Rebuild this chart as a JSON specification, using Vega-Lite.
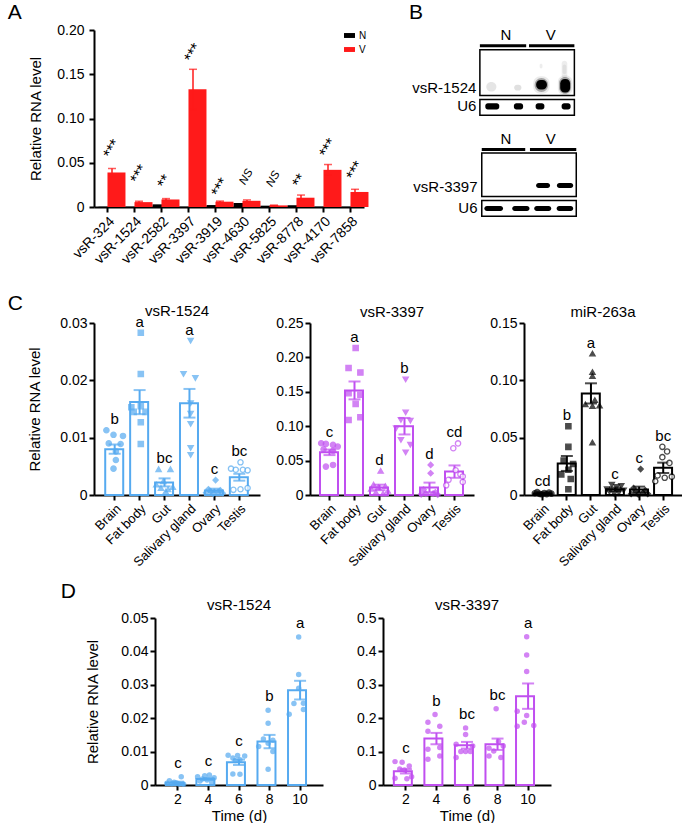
{
  "$schema": "https://vega.github.io/schema/vega-lite/v6.json",
  "background": "white",
  "padding": {"left": 7, "top": 2, "right": 0, "bottom": 0},
  "config": {
    "font": "Liberation Sans",
    "view": {"stroke": null},
    "axis": {"domainColor": "#000", "domainWidth": 2, "tickColor": "#000", "tickWidth": 2, "tickSize": 5, "labelColor": "#000", "labelFontSize": 14, "titleColor": "#000", "titleFontSize": 15, "titleFontWeight": "normal", "labelPadding": 2, "grid": false, "labelFont": "Liberation Sans", "titleFont": "Liberation Sans"},
    "title": {"fontWeight": "normal", "color": "#000", "font": "Liberation Sans"},
    "text": {"font": "Liberation Sans", "color": "#000"}
  },
  "datasets": {
    "a": [
      {"g": "vsR-324", "k": "N", "m": 0.0003, "s": 0},
      {"g": "vsR-324", "k": "V", "m": 0.039, "s": 0.0045},
      {"g": "vsR-1524", "k": "N", "m": 0.0003, "s": 0},
      {"g": "vsR-1524", "k": "V", "m": 0.0055, "s": 0.001},
      {"g": "vsR-2582", "k": "N", "m": 0.003, "s": 0.0004},
      {"g": "vsR-2582", "k": "V", "m": 0.0085, "s": 0.001},
      {"g": "vsR-3397", "k": "N", "m": 0.0003, "s": 0},
      {"g": "vsR-3397", "k": "V", "m": 0.133, "s": 0.0226},
      {"g": "vsR-3919", "k": "N", "m": 0.0022, "s": 0.0003},
      {"g": "vsR-3919", "k": "V", "m": 0.006, "s": 0.0007},
      {"g": "vsR-4630", "k": "N", "m": 0.0045, "s": 0.0005},
      {"g": "vsR-4630", "k": "V", "m": 0.007, "s": 0.001},
      {"g": "vsR-5825", "k": "N", "m": 0.0015, "s": 0.0002},
      {"g": "vsR-5825", "k": "V", "m": 0.0018, "s": 0.0003},
      {"g": "vsR-8778", "k": "N", "m": 0.002, "s": 0.0003},
      {"g": "vsR-8778", "k": "V", "m": 0.0105, "s": 0.003},
      {"g": "vsR-4170", "k": "N", "m": 0.0003, "s": 0},
      {"g": "vsR-4170", "k": "V", "m": 0.042, "s": 0.006},
      {"g": "vsR-7858", "k": "N", "m": 0.0003, "s": 0},
      {"g": "vsR-7858", "k": "V", "m": 0.017, "s": 0.003}
    ],
    "asig": [
      {"g": "vsR-324", "lab": "***", "m": 0.0565},
      {"g": "vsR-1524", "lab": "***", "m": 0.028},
      {"g": "vsR-2582", "lab": "**", "m": 0.0226},
      {"g": "vsR-3397", "lab": "***", "m": 0.165},
      {"g": "vsR-3919", "lab": "***", "m": 0.013},
      {"g": "vsR-4630", "lab": "NS", "m": 0.026},
      {"g": "vsR-5825", "lab": "NS", "m": 0.0237},
      {"g": "vsR-8778", "lab": "**", "m": 0.0237},
      {"g": "vsR-4170", "lab": "***", "m": 0.0576},
      {"g": "vsR-7858", "lab": "***", "m": 0.032}
    ],
    "bbox": [
      {"x1": 0, "x2": 4, "y1": 10.3, "y2": 34.0},
      {"x1": 0, "x2": 4, "y1": 36.1, "y2": 44.3},
      {"x1": 0.08, "x2": 4.08, "y1": 63.9, "y2": 86.6},
      {"x1": 0.08, "x2": 4.08, "y1": 88.7, "y2": 96.9}
    ],
    "bline": [
      {"x1": 0, "x2": 1.96, "y": 8.2},
      {"x1": 2.08, "x2": 4, "y": 8.2},
      {"x1": 0.08, "x2": 1.92, "y": 62.2},
      {"x1": 2.12, "x2": 4.08, "y": 62.2}
    ],
    "bnv": [
      {"x": 1.1, "y": 5.2, "t": "N"},
      {"x": 3.0, "y": 5.2, "t": "V"},
      {"x": 1.1, "y": 59.3, "t": "N"},
      {"x": 3.0, "y": 59.3, "t": "V"}
    ],
    "blab": [
      {"x": -0.15, "y": 29.9, "t": "vsR-1524"},
      {"x": -0.15, "y": 39.7, "t": "U6"},
      {"x": -0.1, "y": 81.4, "t": "vsR-3397"},
      {"x": -0.1, "y": 92.8, "t": "U6"}
    ],
    "bband": [
      {"x1": 0.23, "x2": 0.82, "y1": 38.1, "y2": 41.3, "o": 1},
      {"x1": 1.44, "x2": 1.83, "y1": 38.1, "y2": 41.3, "o": 1},
      {"x1": 2.36, "x2": 2.73, "y1": 38.1, "y2": 41.3, "o": 1},
      {"x1": 3.46, "x2": 3.84, "y1": 38.1, "y2": 41.3, "o": 1},
      {"x1": 2.38, "x2": 2.97, "y1": 79.6, "y2": 82.2, "o": 1},
      {"x1": 3.26, "x2": 3.95, "y1": 79.6, "y2": 82.2, "o": 1},
      {"x1": 0.19, "x2": 0.98, "y1": 91.5, "y2": 94.1, "o": 1},
      {"x1": 1.37, "x2": 2.1, "y1": 91.5, "y2": 94.1, "o": 1},
      {"x1": 2.3, "x2": 3.02, "y1": 91.5, "y2": 94.1, "o": 1},
      {"x1": 3.25, "x2": 3.95, "y1": 91.5, "y2": 94.1, "o": 1}
    ],
    "bhalo": [
      {"x1": 2.26, "x2": 2.95, "y1": 24, "y2": 33.2, "o": 0.08},
      {"x1": 2.32, "x2": 2.89, "y1": 25, "y2": 32.2, "o": 0.3},
      {"x1": 3.3, "x2": 3.92, "y1": 23.5, "y2": 34, "o": 0.08},
      {"x1": 3.35, "x2": 3.86, "y1": 24.5, "y2": 33.2, "o": 0.3},
      {"x1": 3.46, "x2": 3.7, "y1": 16, "y2": 25, "o": 0.07},
      {"x1": 3.5, "x2": 3.66, "y1": 18, "y2": 23, "o": 0.06},
      {"x1": 0.27, "x2": 0.7, "y1": 27, "y2": 32, "o": 0.1},
      {"x1": 1.45, "x2": 1.76, "y1": 28.5, "y2": 31.5, "o": 0.12},
      {"x1": 2.53, "x2": 2.65, "y1": 17.5, "y2": 20, "o": 0.07}
    ],
    "bblob": [
      {"x1": 2.38, "x2": 2.84, "y1": 26, "y2": 31, "o": 1},
      {"x1": 3.4, "x2": 3.82, "y1": 25.5, "y2": 32.5, "o": 1}
    ],
    "c1s": [
      {"t": "Brain", "v": 0.008, "s": 0.0008, "L": "b"},
      {"t": "Fat body", "v": 0.0162, "s": 0.0021, "L": "a"},
      {"t": "Gut", "v": 0.0022, "s": 0.0007, "L": "bc"},
      {"t": "Salivary gland", "v": 0.016, "s": 0.0025, "L": "a"},
      {"t": "Ovary", "v": 0.0008, "s": 0.0003, "L": "c"},
      {"t": "Testis", "v": 0.0031, "s": 0.0006, "L": "bc"}
    ],
    "c1p": [
      {"t": "Brain", "v": 0.0113, "r": 1}, {"t": "Brain", "v": 0.0105, "r": 4}, {"t": "Brain", "v": 0.0103, "r": 8}, {"t": "Brain", "v": 0.009, "r": 2},
      {"t": "Brain", "v": 0.0089, "r": 7}, {"t": "Brain", "v": 0.0076, "r": 5}, {"t": "Brain", "v": 0.0061, "r": 5}, {"t": "Brain", "v": 0.0046, "r": 4},
      {"t": "Fat body", "v": 0.0283, "r": 5}, {"t": "Fat body", "v": 0.0211, "r": 5}, {"t": "Fat body", "v": 0.0155, "r": 5}, {"t": "Fat body", "v": 0.0153, "r": 1},
      {"t": "Fat body", "v": 0.0145, "r": 7}, {"t": "Fat body", "v": 0.0145, "r": 2}, {"t": "Fat body", "v": 0.0127, "r": 5}, {"t": "Fat body", "v": 0.0089, "r": 5},
      {"t": "Gut", "v": 0.0045, "r": 2}, {"t": "Gut", "v": 0.0045, "r": 7}, {"t": "Gut", "v": 0.0024, "r": 4}, {"t": "Gut", "v": 0.0018, "r": 1},
      {"t": "Gut", "v": 0.0014, "r": 8}, {"t": "Gut", "v": 0.0012, "r": 3}, {"t": "Gut", "v": 0.001, "r": 6}, {"t": "Gut", "v": 0.0006, "r": 5},
      {"t": "Salivary gland", "v": 0.0269, "r": 5}, {"t": "Salivary gland", "v": 0.0211, "r": 2}, {"t": "Salivary gland", "v": 0.0204, "r": 7}, {"t": "Salivary gland", "v": 0.016, "r": 5},
      {"t": "Salivary gland", "v": 0.0142, "r": 5}, {"t": "Salivary gland", "v": 0.0124, "r": 5}, {"t": "Salivary gland", "v": 0.0082, "r": 5}, {"t": "Salivary gland", "v": 0.007, "r": 5},
      {"t": "Ovary", "v": 0.0026, "r": 5}, {"t": "Ovary", "v": 0.001, "r": 2}, {"t": "Ovary", "v": 0.0008, "r": 7}, {"t": "Ovary", "v": 0.0006, "r": 3},
      {"t": "Ovary", "v": 0.0005, "r": 6}, {"t": "Ovary", "v": 0.0004, "r": 1}, {"t": "Ovary", "v": 0.0003, "r": 8}, {"t": "Ovary", "v": 0.0002, "r": 4},
      {"t": "Testis", "v": 0.0057, "r": 5}, {"t": "Testis", "v": 0.0046, "r": 1}, {"t": "Testis", "v": 0.0044, "r": 3}, {"t": "Testis", "v": 0.0044, "r": 6},
      {"t": "Testis", "v": 0.0043, "r": 8}, {"t": "Testis", "v": 0.0012, "r": 8}, {"t": "Testis", "v": 0.001, "r": 5}, {"t": "Testis", "v": 0.0009, "r": 2}
    ],
    "c2s": [
      {"t": "Brain", "v": 0.062, "s": 0.004, "L": "c"},
      {"t": "Fat body", "v": 0.152, "s": 0.013, "L": "a"},
      {"t": "Gut", "v": 0.011, "s": 0.004, "L": "d"},
      {"t": "Salivary gland", "v": 0.1, "s": 0.012, "L": "b"},
      {"t": "Ovary", "v": 0.011, "s": 0.007, "L": "d"},
      {"t": "Testis", "v": 0.034, "s": 0.009, "L": "cd"}
    ],
    "c2p": [
      {"t": "Brain", "v": 0.0752, "r": 1}, {"t": "Brain", "v": 0.0743, "r": 3}, {"t": "Brain", "v": 0.0728, "r": 6}, {"t": "Brain", "v": 0.0704, "r": 8},
      {"t": "Brain", "v": 0.0665, "r": 2}, {"t": "Brain", "v": 0.0641, "r": 6}, {"t": "Brain", "v": 0.0413, "r": 3}, {"t": "Brain", "v": 0.0437, "r": 6},
      {"t": "Fat body", "v": 0.2136, "r": 5}, {"t": "Fat body", "v": 0.1845, "r": 2}, {"t": "Fat body", "v": 0.178, "r": 7}, {"t": "Fat body", "v": 0.148, "r": 2},
      {"t": "Fat body", "v": 0.1456, "r": 7}, {"t": "Fat body", "v": 0.1325, "r": 5}, {"t": "Fat body", "v": 0.109, "r": 2}, {"t": "Fat body", "v": 0.113, "r": 7},
      {"t": "Gut", "v": 0.035, "r": 5}, {"t": "Gut", "v": 0.015, "r": 2}, {"t": "Gut", "v": 0.013, "r": 7}, {"t": "Gut", "v": 0.011, "r": 4},
      {"t": "Gut", "v": 0.009, "r": 1}, {"t": "Gut", "v": 0.006, "r": 8}, {"t": "Gut", "v": 0.004, "r": 3}, {"t": "Gut", "v": 0.002, "r": 6},
      {"t": "Salivary gland", "v": 0.168, "r": 5}, {"t": "Salivary gland", "v": 0.12, "r": 5}, {"t": "Salivary gland", "v": 0.109, "r": 3}, {"t": "Salivary gland", "v": 0.108, "r": 7},
      {"t": "Salivary gland", "v": 0.097, "r": 1}, {"t": "Salivary gland", "v": 0.08, "r": 3}, {"t": "Salivary gland", "v": 0.073, "r": 7}, {"t": "Salivary gland", "v": 0.062, "r": 5},
      {"t": "Ovary", "v": 0.0437, "r": 5}, {"t": "Ovary", "v": 0.0316, "r": 5}, {"t": "Ovary", "v": 0.008, "r": 2}, {"t": "Ovary", "v": 0.004, "r": 7},
      {"t": "Ovary", "v": 0.002, "r": 3}, {"t": "Ovary", "v": 0.002, "r": 6}, {"t": "Ovary", "v": 0.001, "r": 1}, {"t": "Ovary", "v": 0.0005, "r": 8},
      {"t": "Testis", "v": 0.075, "r": 6}, {"t": "Testis", "v": 0.068, "r": 4}, {"t": "Testis", "v": 0.036, "r": 5}, {"t": "Testis", "v": 0.03, "r": 7},
      {"t": "Testis", "v": 0.027, "r": 8}, {"t": "Testis", "v": 0.022, "r": 2}, {"t": "Testis", "v": 0.019, "r": 8}, {"t": "Testis", "v": 0.014, "r": 1}
    ],
    "c3s": [
      {"t": "Brain", "v": 0.0012, "s": 0.0003, "L": "cd"},
      {"t": "Fat body", "v": 0.0275, "s": 0.0065, "L": "b"},
      {"t": "Gut", "v": 0.0886, "s": 0.0088, "L": "a"},
      {"t": "Salivary gland", "v": 0.005, "s": 0.0015, "L": "c"},
      {"t": "Ovary", "v": 0.0048, "s": 0.0025, "L": "c"},
      {"t": "Testis", "v": 0.0237, "s": 0.0045, "L": "bc"}
    ],
    "c3p": [
      {"t": "Brain", "v": 0.0025, "r": 2}, {"t": "Brain", "v": 0.0022, "r": 7}, {"t": "Brain", "v": 0.0018, "r": 5}, {"t": "Brain", "v": 0.0015, "r": 1},
      {"t": "Brain", "v": 0.0012, "r": 8}, {"t": "Brain", "v": 0.001, "r": 3}, {"t": "Brain", "v": 0.0008, "r": 6}, {"t": "Brain", "v": 0.0006, "r": 4},
      {"t": "Fat body", "v": 0.06, "r": 5}, {"t": "Fat body", "v": 0.042, "r": 5}, {"t": "Fat body", "v": 0.03, "r": 3}, {"t": "Fat body", "v": 0.027, "r": 7},
      {"t": "Fat body", "v": 0.022, "r": 5}, {"t": "Fat body", "v": 0.018, "r": 2}, {"t": "Fat body", "v": 0.014, "r": 6}, {"t": "Fat body", "v": 0.005, "r": 5},
      {"t": "Gut", "v": 0.1234, "r": 5}, {"t": "Gut", "v": 0.1072, "r": 5}, {"t": "Gut", "v": 0.1037, "r": 5}, {"t": "Gut", "v": 0.0828, "r": 6},
      {"t": "Gut", "v": 0.079, "r": 2}, {"t": "Gut", "v": 0.078, "r": 8}, {"t": "Gut", "v": 0.0776, "r": 5}, {"t": "Gut", "v": 0.0458, "r": 5},
      {"t": "Salivary gland", "v": 0.009, "r": 3}, {"t": "Salivary gland", "v": 0.008, "r": 7}, {"t": "Salivary gland", "v": 0.007, "r": 5}, {"t": "Salivary gland", "v": 0.005, "r": 1},
      {"t": "Salivary gland", "v": 0.004, "r": 8}, {"t": "Salivary gland", "v": 0.003, "r": 2}, {"t": "Salivary gland", "v": 0.002, "r": 6}, {"t": "Salivary gland", "v": 0.001, "r": 4},
      {"t": "Ovary", "v": 0.0226, "r": 5}, {"t": "Ovary", "v": 0.006, "r": 2}, {"t": "Ovary", "v": 0.004, "r": 7}, {"t": "Ovary", "v": 0.003, "r": 3},
      {"t": "Ovary", "v": 0.002, "r": 6}, {"t": "Ovary", "v": 0.001, "r": 1}, {"t": "Ovary", "v": 0.001, "r": 8}, {"t": "Ovary", "v": 0.0005, "r": 4},
      {"t": "Testis", "v": 0.042, "r": 4}, {"t": "Testis", "v": 0.038, "r": 6}, {"t": "Testis", "v": 0.033, "r": 4}, {"t": "Testis", "v": 0.028, "r": 7},
      {"t": "Testis", "v": 0.017, "r": 2}, {"t": "Testis", "v": 0.016, "r": 8}, {"t": "Testis", "v": 0.015, "r": 5}, {"t": "Testis", "v": 0.012, "r": 1}
    ],
    "d1s": [
      {"t": "2", "v": 0.0007, "s": 0.0003, "L": "c"},
      {"t": "4", "v": 0.0018, "s": 0.0003, "L": "c"},
      {"t": "6", "v": 0.0068, "s": 0.0008, "L": "c"},
      {"t": "8", "v": 0.013, "s": 0.002, "L": "b"},
      {"t": "10", "v": 0.0284, "s": 0.0028, "L": "a"}
    ],
    "d1p": [
      {"t": "2", "v": 0.0025, "r": 7}, {"t": "2", "v": 0.0013, "r": 2}, {"t": "2", "v": 0.0008, "r": 4}, {"t": "2", "v": 0.0006, "r": 5},
      {"t": "2", "v": 0.0005, "r": 1}, {"t": "2", "v": 0.0004, "r": 3}, {"t": "2", "v": 0.0003, "r": 6}, {"t": "2", "v": 0.0002, "r": 8},
      {"t": "4", "v": 0.003, "r": 6}, {"t": "4", "v": 0.0028, "r": 4}, {"t": "4", "v": 0.0025, "r": 1}, {"t": "4", "v": 0.0022, "r": 8},
      {"t": "4", "v": 0.0018, "r": 3}, {"t": "4", "v": 0.0015, "r": 5}, {"t": "4", "v": 0.0012, "r": 2}, {"t": "4", "v": 0.0008, "r": 7},
      {"t": "6", "v": 0.0089, "r": 1}, {"t": "6", "v": 0.0088, "r": 5}, {"t": "6", "v": 0.0087, "r": 8}, {"t": "6", "v": 0.0081, "r": 3},
      {"t": "6", "v": 0.0076, "r": 6}, {"t": "6", "v": 0.0073, "r": 4}, {"t": "6", "v": 0.0033, "r": 3}, {"t": "6", "v": 0.0032, "r": 6},
      {"t": "8", "v": 0.0224, "r": 5}, {"t": "8", "v": 0.0185, "r": 5}, {"t": "8", "v": 0.0138, "r": 3}, {"t": "8", "v": 0.0134, "r": 7},
      {"t": "8", "v": 0.0125, "r": 5}, {"t": "8", "v": 0.0115, "r": 1}, {"t": "8", "v": 0.01, "r": 7}, {"t": "8", "v": 0.0047, "r": 5},
      {"t": "10", "v": 0.0443, "r": 5}, {"t": "10", "v": 0.0331, "r": 5}, {"t": "10", "v": 0.029, "r": 5}, {"t": "10", "v": 0.0245, "r": 7},
      {"t": "10", "v": 0.0244, "r": 3}, {"t": "10", "v": 0.0226, "r": 7}, {"t": "10", "v": 0.0212, "r": 1}
    ],
    "d2s": [
      {"t": "2", "v": 0.041, "s": 0.0065, "L": "c"},
      {"t": "4", "v": 0.139, "s": 0.017, "L": "b"},
      {"t": "6", "v": 0.119, "s": 0.01, "L": "bc"},
      {"t": "8", "v": 0.122, "s": 0.017, "L": "bc"},
      {"t": "10", "v": 0.266, "s": 0.038, "L": "a"}
    ],
    "d2p": [
      {"t": "2", "v": 0.07, "r": 1}, {"t": "2", "v": 0.068, "r": 4}, {"t": "2", "v": 0.057, "r": 7}, {"t": "2", "v": 0.048, "r": 3},
      {"t": "2", "v": 0.045, "r": 5}, {"t": "2", "v": 0.025, "r": 8}, {"t": "2", "v": 0.02, "r": 1}, {"t": "2", "v": 0.019, "r": 6},
      {"t": "4", "v": 0.211, "r": 5}, {"t": "4", "v": 0.188, "r": 2}, {"t": "4", "v": 0.176, "r": 7}, {"t": "4", "v": 0.161, "r": 2},
      {"t": "4", "v": 0.107, "r": 2}, {"t": "4", "v": 0.112, "r": 7}, {"t": "4", "v": 0.077, "r": 2}, {"t": "4", "v": 0.087, "r": 7},
      {"t": "6", "v": 0.171, "r": 5}, {"t": "6", "v": 0.151, "r": 5}, {"t": "6", "v": 0.122, "r": 1}, {"t": "6", "v": 0.117, "r": 8},
      {"t": "6", "v": 0.1, "r": 3}, {"t": "6", "v": 0.1, "r": 5}, {"t": "6", "v": 0.1, "r": 7}, {"t": "6", "v": 0.082, "r": 1},
      {"t": "8", "v": 0.228, "r": 5}, {"t": "8", "v": 0.13, "r": 6}, {"t": "8", "v": 0.117, "r": 8}, {"t": "8", "v": 0.11, "r": 2},
      {"t": "8", "v": 0.102, "r": 4}, {"t": "8", "v": 0.087, "r": 2}, {"t": "8", "v": 0.082, "r": 7},
      {"t": "10", "v": 0.444, "r": 5}, {"t": "10", "v": 0.389, "r": 5}, {"t": "10", "v": 0.34, "r": 5}, {"t": "10", "v": 0.221, "r": 1},
      {"t": "10", "v": 0.208, "r": 5}, {"t": "10", "v": 0.178, "r": 8}, {"t": "10", "v": 0.176, "r": 1}, {"t": "10", "v": 0.188, "r": 4}
    ]
  },
  "spacing": 12,
  "vconcat": [
    {
      "title": {"text": "A", "anchor": "start", "fontSize": 21, "dx": -21, "dy": 21, "offset": 0},
      "spacing": 40,
      "hconcat": [
        {
          "width": 270,
          "height": 177,
          "data": {"name": "a"},
          "encoding": {
            "x": {"field": "g", "type": "nominal", "sort": ["vsR-324", "vsR-1524", "vsR-2582", "vsR-3397", "vsR-3919", "vsR-4630", "vsR-5825", "vsR-8778", "vsR-4170", "vsR-7858"], "scale": {"paddingInner": 0.33, "paddingOuter": 0.165}, "axis": {"title": null, "labelAngle": -45, "labelFontSize": 14}},
            "y": {"field": "m", "type": "quantitative", "scale": {"domain": [0, 0.2]}, "axis": {"title": "Relative RNA level", "values": [0, 0.05, 0.1, 0.15, 0.2], "labelExpr": "datum.value == 0 ? '0' : format(datum.value, '.2f')", "titlePadding": 13, "labelPadding": 5}}
          },
          "layer": [
            {
              "transform": [{"filter": "datum.k == 'N'"}],
              "mark": {"type": "bar", "width": {"band": 0.5}, "xOffset": -4.5},
              "encoding": {
                "color": {"datum": "N", "type": "nominal", "scale": {"domain": ["N", "V"], "range": ["#000000", "#FF1A1A"]}, "legend": {"title": null, "orient": "none", "legendX": 250, "legendY": 0, "symbolType": "M-1,-0.45H1V0.45H-1Z", "symbolSize": 120, "labelFontSize": 10, "rowPadding": 3, "symbolStrokeWidth": 0}}
              }
            },
            {
              "transform": [{"filter": "datum.k == 'V'"}],
              "mark": {"type": "bar", "width": {"band": 0.5}, "xOffset": 4.5},
              "encoding": {
                "color": {"datum": "V", "type": "nominal"}
              }
            },
            {
              "transform": [{"filter": "datum.k == 'V'"}],
              "mark": {"type": "errorbar", "ticks": {"size": 8, "xOffset": 4.5}, "rule": {"xOffset": 4.5}, "thickness": 1.5, "color": "#FF1A1A"},
              "encoding": {"yError": {"field": "s"}}
            },
            {
              "data": {"name": "asig"},
              "transform": [{"filter": "datum.lab != 'NS'"}],
              "mark": {"type": "text", "angle": -60, "align": "left", "baseline": "middle", "fontSize": 16},
              "encoding": {"text": {"field": "lab"}}
            },
            {
              "data": {"name": "asig"},
              "transform": [{"filter": "datum.lab == 'NS'"}],
              "mark": {"type": "text", "angle": -60, "align": "left", "baseline": "middle", "fontSize": 11.5, "fontStyle": "italic"},
              "encoding": {"text": {"field": "lab"}}
            }
          ]
        },
        {
          "width": 189,
          "height": 250,
          "title": {"text": "B", "anchor": "start", "frame": "group", "fontSize": 21, "offset": 5},
          "layer": [
            {
              "data": {"name": "bbox"},
              "mark": {"type": "rect", "fill": "white", "stroke": "#000", "strokeWidth": 1.5},
              "encoding": {
                "x": {"field": "x1", "type": "quantitative", "scale": {"domain": [-3, 4.5]}, "axis": null},
                "x2": {"field": "x2"},
                "y": {"field": "y1", "type": "quantitative", "scale": {"domain": [0, 128.9], "reverse": true}, "axis": null},
                "y2": {"field": "y2"}
              }
            },
            {
              "data": {"name": "bband"},
              "mark": {"type": "rect", "fill": "#000", "cornerRadius": 2.5},
              "encoding": {
                "x": {"field": "x1", "type": "quantitative"},
                "x2": {"field": "x2"},
                "y": {"field": "y1", "type": "quantitative"},
                "y2": {"field": "y2"},
                "opacity": {"field": "o", "type": "quantitative", "scale": null}
              }
            },
            {
              "data": {"name": "bhalo"},
              "mark": {"type": "rect", "fill": "#000", "cornerRadius": 7},
              "encoding": {
                "x": {"field": "x1", "type": "quantitative"},
                "x2": {"field": "x2"},
                "y": {"field": "y1", "type": "quantitative"},
                "y2": {"field": "y2"},
                "opacity": {"field": "o", "type": "quantitative", "scale": null}
              }
            },
            {
              "data": {"name": "bblob"},
              "mark": {"type": "rect", "fill": "#000", "cornerRadius": 4.5},
              "encoding": {
                "x": {"field": "x1", "type": "quantitative"},
                "x2": {"field": "x2"},
                "y": {"field": "y1", "type": "quantitative"},
                "y2": {"field": "y2"},
                "opacity": {"field": "o", "type": "quantitative", "scale": null}
              }
            },
            {
              "data": {"name": "bline"},
              "mark": {"type": "rule", "strokeWidth": 3, "color": "#000"},
              "encoding": {
                "x": {"field": "x1", "type": "quantitative"},
                "x2": {"field": "x2"},
                "y": {"field": "y", "type": "quantitative"}
              }
            },
            {
              "data": {"name": "bnv"},
              "mark": {"type": "text", "fontSize": 15, "align": "center", "baseline": "alphabetic"},
              "encoding": {
                "x": {"field": "x", "type": "quantitative"},
                "y": {"field": "y", "type": "quantitative"},
                "text": {"field": "t"}
              }
            },
            {
              "data": {"name": "blab"},
              "mark": {"type": "text", "fontSize": 15, "align": "right", "baseline": "middle"},
              "encoding": {
                "x": {"field": "x", "type": "quantitative"},
                "y": {"field": "y", "type": "quantitative"},
                "text": {"field": "t"}
              }
            }
          ]
        }
      ]
    },
    {
      "title": {"text": "C", "anchor": "start", "fontSize": 21, "dx": -20, "dy": 10, "offset": 0},
      "spacing": 15,
      "hconcat": [
        {
          "width": 166,
          "height": 172,
          "title": {"text": "vsR-1524", "fontSize": 15, "offset": -4},
          "encoding": {
            "x": {"field": "t", "type": "nominal", "sort": ["Brain", "Fat body", "Gut", "Salivary gland", "Ovary", "Testis"], "scale": {"paddingInner": 0.24, "paddingOuter": 0.45}, "axis": {"title": null, "labelAngle": -45, "labelFontSize": 13}},
            "y": {"field": "v", "type": "quantitative", "scale": {"domain": [0, 0.03]}, "axis": {"title": "Relative RNA level", "values": [0, 0.01, 0.02, 0.03], "labelExpr": "datum.value == 0 ? '0' : format(datum.value, '.2f')", "titlePadding": 17}}
          },
          "layer": [
            {"data": {"name": "c1s"}, "mark": {"type": "bar", "fill": "white", "stroke": "#56AAF0", "strokeWidth": 2}},
            {"data": {"name": "c1s"}, "mark": {"type": "errorbar", "ticks": {"size": 12}, "thickness": 2, "color": "#56AAF0"}, "encoding": {"yError": {"field": "s"}}},
            {
              "data": {"name": "c1p"},
              "mark": {"type": "point", "filled": true, "size": 28, "strokeWidth": 1.3},
              "encoding": {
                "xOffset": {"field": "r", "type": "ordinal", "scale": {"domain": [1, 2, 3, 4, 5, 6, 7, 8]}},
                "shape": {"field": "t", "type": "nominal", "scale": {"domain": ["Brain", "Fat body", "Gut", "Salivary gland", "Ovary", "Testis"], "range": ["circle", "square", "triangle-up", "triangle-down", "diamond", "circle"]}, "legend": null},
                "fill": {"condition": {"test": "datum.t == 'Testis'", "value": "white"}, "value": "#56AAF0"},
                "stroke": {"value": "#56AAF0"}
              }
            },
            {
              "data": {"name": "c1p"},
              "transform": [{"aggregate": [{"op": "max", "field": "v", "as": "v"}], "groupby": ["t"]}, {"lookup": "t", "from": {"data": {"name": "c1s"}, "key": "t", "fields": ["L"]}}],
              "mark": {"type": "text", "fontSize": 15, "dy": -6, "baseline": "alphabetic"},
              "encoding": {"text": {"field": "L"}}
            }
          ]
        },
        {
          "width": 164,
          "height": 172,
          "title": {"text": "vsR-3397", "fontSize": 15, "offset": -4},
          "encoding": {
            "x": {"field": "t", "type": "nominal", "sort": ["Brain", "Fat body", "Gut", "Salivary gland", "Ovary", "Testis"], "scale": {"paddingInner": 0.24, "paddingOuter": 0.4}, "axis": {"title": null, "labelAngle": -45, "labelFontSize": 13}},
            "y": {"field": "v", "type": "quantitative", "scale": {"domain": [0, 0.25]}, "axis": {"title": null, "values": [0, 0.05, 0.1, 0.15, 0.2, 0.25], "labelExpr": "datum.value == 0 ? '0' : format(datum.value, '.2f')"}}
          },
          "layer": [
            {"data": {"name": "c2s"}, "mark": {"type": "bar", "fill": "white", "stroke": "#C04FF0", "strokeWidth": 2}},
            {"data": {"name": "c2s"}, "mark": {"type": "errorbar", "ticks": {"size": 12}, "thickness": 2, "color": "#C04FF0"}, "encoding": {"yError": {"field": "s"}}},
            {
              "data": {"name": "c2p"},
              "mark": {"type": "point", "filled": true, "size": 28, "strokeWidth": 1.3},
              "encoding": {
                "xOffset": {"field": "r", "type": "ordinal", "scale": {"domain": [1, 2, 3, 4, 5, 6, 7, 8]}},
                "shape": {"field": "t", "type": "nominal", "scale": {"domain": ["Brain", "Fat body", "Gut", "Salivary gland", "Ovary", "Testis"], "range": ["circle", "square", "triangle-up", "triangle-down", "diamond", "circle"]}, "legend": null},
                "fill": {"condition": {"test": "datum.t == 'Testis'", "value": "white"}, "value": "#C04FF0"},
                "stroke": {"value": "#C04FF0"}
              }
            },
            {
              "data": {"name": "c2p"},
              "transform": [{"aggregate": [{"op": "max", "field": "v", "as": "v"}], "groupby": ["t"]}, {"lookup": "t", "from": {"data": {"name": "c2s"}, "key": "t", "fields": ["L"]}}],
              "mark": {"type": "text", "fontSize": 15, "dy": -6, "baseline": "alphabetic"},
              "encoding": {"text": {"field": "L"}}
            }
          ]
        },
        {
          "width": 158,
          "height": 172,
          "title": {"text": "miR-263a", "fontSize": 15, "offset": -4},
          "encoding": {
            "x": {"field": "t", "type": "nominal", "sort": ["Brain", "Fat body", "Gut", "Salivary gland", "Ovary", "Testis"], "scale": {"paddingInner": 0.24, "paddingOuter": 0.4}, "axis": {"title": null, "labelAngle": -45, "labelFontSize": 13}},
            "y": {"field": "v", "type": "quantitative", "scale": {"domain": [0, 0.15]}, "axis": {"title": null, "values": [0, 0.05, 0.1, 0.15], "labelExpr": "datum.value == 0 ? '0' : format(datum.value, '.2f')"}}
          },
          "layer": [
            {"data": {"name": "c3s"}, "mark": {"type": "bar", "fill": "white", "stroke": "#000", "strokeWidth": 2}},
            {"data": {"name": "c3s"}, "mark": {"type": "errorbar", "ticks": {"size": 12}, "thickness": 2, "color": "#000"}, "encoding": {"yError": {"field": "s"}}},
            {
              "data": {"name": "c3p"},
              "mark": {"type": "point", "filled": true, "size": 28, "strokeWidth": 1.3},
              "encoding": {
                "xOffset": {"field": "r", "type": "ordinal", "scale": {"domain": [1, 2, 3, 4, 5, 6, 7, 8]}},
                "shape": {"field": "t", "type": "nominal", "scale": {"domain": ["Brain", "Fat body", "Gut", "Salivary gland", "Ovary", "Testis"], "range": ["circle", "square", "triangle-up", "triangle-down", "diamond", "circle"]}, "legend": null},
                "fill": {"condition": {"test": "datum.t == 'Testis'", "value": "white"}, "value": "#000"},
                "stroke": {"value": "#000"}
              }
            },
            {
              "data": {"name": "c3p"},
              "transform": [{"aggregate": [{"op": "max", "field": "v", "as": "v"}], "groupby": ["t"]}, {"lookup": "t", "from": {"data": {"name": "c3s"}, "key": "t", "fields": ["L"]}}],
              "mark": {"type": "text", "fontSize": 15, "dy": -6, "baseline": "alphabetic"},
              "encoding": {"text": {"field": "L"}}
            }
          ]
        }
      ]
    },
    {
      "title": {"text": "D", "anchor": "start", "fontSize": 21, "dx": -25, "dy": 4, "offset": 0},
      "spacing": -10,
      "hconcat": [
        {
          "width": 1,
          "height": 1,
          "data": {"values": []},
          "mark": "point"
        },
        {
          "spacing": 33,
          "hconcat": [
            {
              "width": 168,
              "height": 167,
              "title": {"text": "vsR-1524", "fontSize": 15, "offset": -2},
              "encoding": {
                "x": {"field": "t", "type": "ordinal", "sort": ["2", "4", "6", "8", "10"], "scale": {"paddingInner": 0.21, "paddingOuter": 0.355}, "axis": {"title": "Time (d)", "labelAngle": 0, "labelFontSize": 14, "titlePadding": 2}},
                "y": {"field": "v", "type": "quantitative", "scale": {"domain": [0, 0.05]}, "axis": {"title": "Relative RNA level", "values": [0, 0.01, 0.02, 0.03, 0.04, 0.05], "labelExpr": "datum.value == 0 ? '0' : format(datum.value, '.2f')", "titlePadding": 20}}
              },
              "layer": [
                {"data": {"name": "d1s"}, "mark": {"type": "bar", "fill": "white", "stroke": "#56AAF0", "strokeWidth": 2}},
                {"data": {"name": "d1s"}, "mark": {"type": "errorbar", "ticks": {"size": 12}, "thickness": 2, "color": "#56AAF0"}, "encoding": {"yError": {"field": "s"}}},
                {
                  "data": {"name": "d1p"},
                  "mark": {"type": "point", "filled": true, "shape": "circle", "size": 30, "color": "#56AAF0"},
                  "encoding": {"xOffset": {"field": "r", "type": "ordinal", "scale": {"domain": [1, 2, 3, 4, 5, 6, 7, 8]}}}
                },
                {
                  "data": {"name": "d1p"},
                  "transform": [{"aggregate": [{"op": "max", "field": "v", "as": "v"}], "groupby": ["t"]}, {"lookup": "t", "from": {"data": {"name": "d1s"}, "key": "t", "fields": ["L"]}}],
                  "mark": {"type": "text", "fontSize": 15, "dy": -9, "baseline": "alphabetic"},
                  "encoding": {"text": {"field": "L"}}
                }
              ]
            },
            {
              "width": 168,
              "height": 167,
              "title": {"text": "vsR-3397", "fontSize": 15, "offset": -2},
              "encoding": {
                "x": {"field": "t", "type": "ordinal", "sort": ["2", "4", "6", "8", "10"], "scale": {"paddingInner": 0.21, "paddingOuter": 0.355}, "axis": {"title": "Time (d)", "labelAngle": 0, "labelFontSize": 14, "titlePadding": 2}},
                "y": {"field": "v", "type": "quantitative", "scale": {"domain": [0, 0.5]}, "axis": {"title": null, "values": [0, 0.1, 0.2, 0.3, 0.4, 0.5], "labelExpr": "datum.value == 0 ? '0' : format(datum.value, '.1f')"}}
              },
              "layer": [
                {"data": {"name": "d2s"}, "mark": {"type": "bar", "fill": "white", "stroke": "#C04FF0", "strokeWidth": 2}},
                {"data": {"name": "d2s"}, "mark": {"type": "errorbar", "ticks": {"size": 12}, "thickness": 2, "color": "#C04FF0"}, "encoding": {"yError": {"field": "s"}}},
                {
                  "data": {"name": "d2p"},
                  "mark": {"type": "point", "filled": true, "shape": "circle", "size": 30, "color": "#C04FF0"},
                  "encoding": {"xOffset": {"field": "r", "type": "ordinal", "scale": {"domain": [1, 2, 3, 4, 5, 6, 7, 8]}}}
                },
                {
                  "data": {"name": "d2p"},
                  "transform": [{"aggregate": [{"op": "max", "field": "v", "as": "v"}], "groupby": ["t"]}, {"lookup": "t", "from": {"data": {"name": "d2s"}, "key": "t", "fields": ["L"]}}],
                  "mark": {"type": "text", "fontSize": 15, "dy": -9, "baseline": "alphabetic"},
                  "encoding": {"text": {"field": "L"}}
                }
              ]
            }
          ]
        }
      ]
    }
  ]
}
